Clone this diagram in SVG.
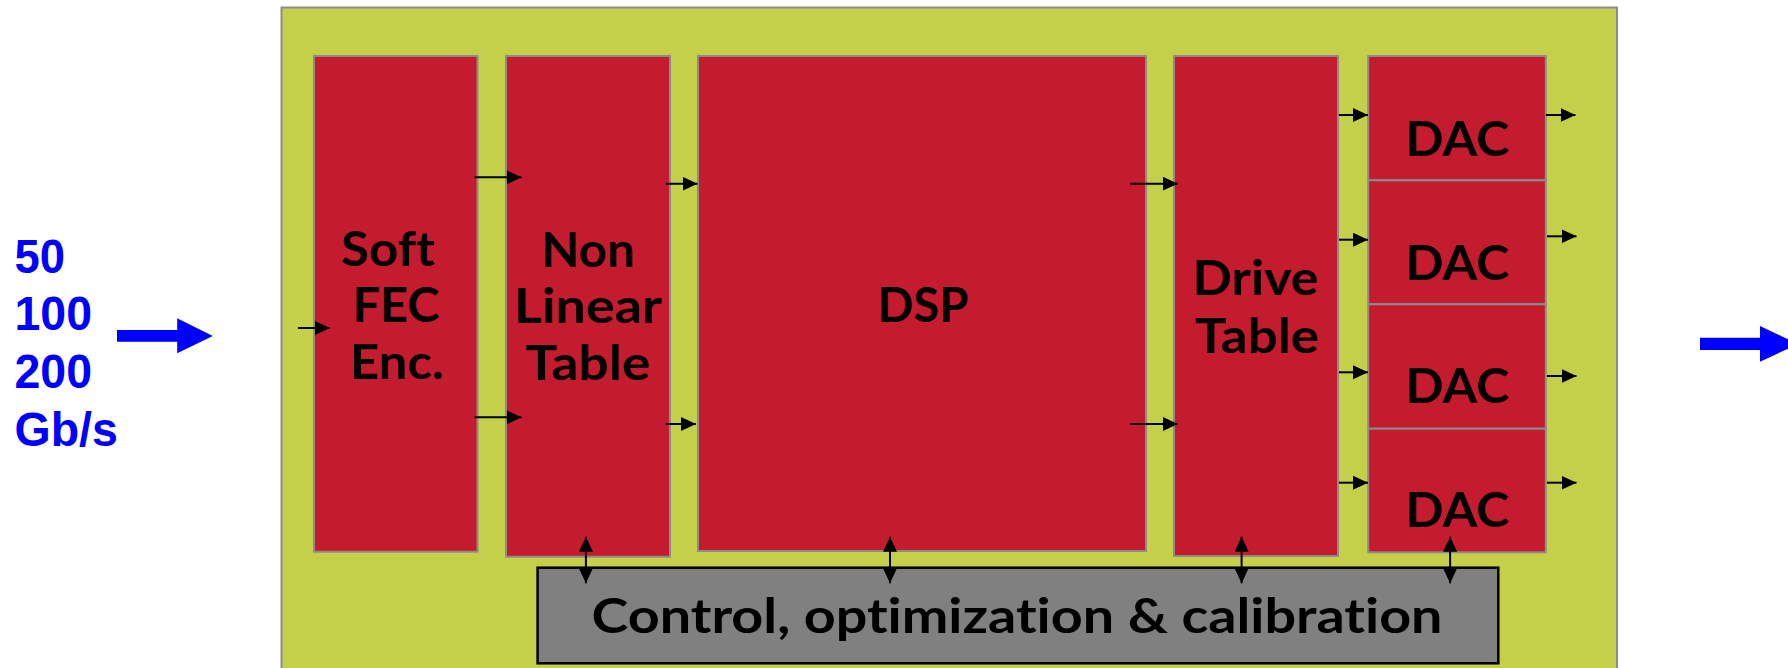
<svg xmlns="http://www.w3.org/2000/svg" width="1788" height="668" viewBox="0 0 1788 668">
  <style>
    .board { fill: #C4CF4A; stroke: #8C8C8C; stroke-width: 2; }
    .blk { fill: #C51B2E; stroke: #8C8C8C; stroke-width: 2; }
    .ctl { fill: #808080; stroke: #000000; stroke-width: 2.5; }
    .lbl { font-family: Lato, "Open Sans", "DejaVu Sans", sans-serif; font-weight: bold; font-size: 47px; fill: #000000; font-variant-ligatures: none; font-feature-settings: "liga" 0, "clig" 0, "dlig" 0; }
    .rate { font-family: "Liberation Sans", Arial, sans-serif; font-weight: bold; font-size: 48px; fill: #0000FF; }
    .wire { stroke: #000000; stroke-width: 2; fill: none; }
    .bus { fill: #0000FF; }
  </style>
  <defs>
    <marker id="head" markerUnits="userSpaceOnUse" markerWidth="15" markerHeight="14" refX="15" refY="7" orient="auto-start-reverse" viewBox="0 0 15 14">
      <path d="M0,0 L15,7 L0,14 z" fill="#000000"/>
    </marker>
  </defs>

  <!-- data rate input -->
  <g id="rate-in">
    <text class="rate" x="14.5" y="273.3" textLength="50.5" lengthAdjust="spacingAndGlyphs">50</text>
    <text class="rate" x="14.5" y="330" textLength="77.5" lengthAdjust="spacingAndGlyphs">100</text>
    <text class="rate" x="14.5" y="388.3" textLength="77.5" lengthAdjust="spacingAndGlyphs">200</text>
    <text class="rate" x="14.5" y="446" textLength="103.4" lengthAdjust="spacingAndGlyphs">Gb/s</text>
    <polygon class="bus" points="117,330 177.2,330 177.2,318.3 212.8,336 177.2,353.3 177.2,341.7 117,341.7"/>
  </g>

  <!-- output arrow, runs off the right edge -->
  <g id="rate-out">
    <polygon class="bus" points="1700,337.7 1760,337.7 1760,326 1798,344 1760,361.7 1760,350 1700,350"/>
  </g>

  <!-- transmitter board -->
  <g id="board">
    <rect class="board" x="281.5" y="7.5" width="1335.5" height="700"/>
  </g>

  <g id="soft-fec">
    <rect class="blk" x="314" y="56" width="163.5" height="495.7"/>
    <text class="lbl" x="341" y="265.5" textLength="94" lengthAdjust="spacingAndGlyphs">Soft</text>
    <text class="lbl" x="352.5" y="322" textLength="87" lengthAdjust="spacingAndGlyphs">FEC</text>
    <text class="lbl" x="350" y="379" textLength="94" lengthAdjust="spacingAndGlyphs">Enc.</text>
  </g>

  <g id="nonlinear-table">
    <rect class="blk" x="506" y="56" width="164" height="500.7"/>
    <text class="lbl" x="541.5" y="266.5" textLength="93.5" lengthAdjust="spacingAndGlyphs">Non</text>
    <text class="lbl" x="514" y="323" textLength="148" lengthAdjust="spacingAndGlyphs">Linear</text>
    <text class="lbl" x="525.5" y="380" textLength="125" lengthAdjust="spacingAndGlyphs">Table</text>
  </g>

  <g id="dsp">
    <rect class="blk" x="698" y="56" width="448" height="495"/>
    <text class="lbl" x="877.4" y="321.7" textLength="91" lengthAdjust="spacingAndGlyphs">DSP</text>
  </g>

  <g id="drive-table">
    <rect class="blk" x="1174" y="56" width="164" height="500"/>
    <text class="lbl" x="1192.5" y="295" textLength="126" lengthAdjust="spacingAndGlyphs">Drive</text>
    <text class="lbl" x="1195" y="353.3" textLength="124" lengthAdjust="spacingAndGlyphs">Table</text>
  </g>

  <g id="dac-1">
    <rect class="blk" x="1368.2" y="56" width="177.6" height="124.3"/>
    <text class="lbl" x="1405.4" y="156" textLength="104" lengthAdjust="spacingAndGlyphs">DAC</text>
  </g>
  <g id="dac-2">
    <rect class="blk" x="1368.2" y="180.3" width="177.6" height="124"/>
    <text class="lbl" x="1405.4" y="280" textLength="104" lengthAdjust="spacingAndGlyphs">DAC</text>
  </g>
  <g id="dac-3">
    <rect class="blk" x="1368.2" y="304.3" width="177.6" height="124.4"/>
    <text class="lbl" x="1405.4" y="403.3" textLength="104" lengthAdjust="spacingAndGlyphs">DAC</text>
  </g>
  <g id="dac-4">
    <rect class="blk" x="1368.2" y="428.7" width="177.6" height="123.6"/>
    <text class="lbl" x="1405.4" y="527.3" textLength="104" lengthAdjust="spacingAndGlyphs">DAC</text>
  </g>

  <g id="control">
    <rect class="ctl" x="537.6" y="567.7" width="960.7" height="95.6"/>
    <text class="lbl" x="591.5" y="633.3" textLength="851" lengthAdjust="spacingAndGlyphs">Control, optimization &amp; calibration</text>
  </g>

  <!-- signal paths -->
  <g id="connectors">
    <line class="wire" x1="298" y1="328" x2="330" y2="328" marker-end="url(#head)"/>
    <line class="wire" x1="474.5" y1="177.3" x2="521.6" y2="177.3" marker-end="url(#head)"/>
    <line class="wire" x1="474.5" y1="417.3" x2="521.6" y2="417.3" marker-end="url(#head)"/>
    <line class="wire" x1="665.8" y1="183.7" x2="697.5" y2="183.7" marker-end="url(#head)"/>
    <line class="wire" x1="665.8" y1="424" x2="696" y2="424" marker-end="url(#head)"/>
    <line class="wire" x1="1130" y1="183.7" x2="1177.8" y2="183.7" marker-end="url(#head)"/>
    <line class="wire" x1="1130" y1="424" x2="1177.8" y2="424" marker-end="url(#head)"/>
    <line class="wire" x1="1339" y1="115" x2="1368" y2="115" marker-end="url(#head)"/>
    <line class="wire" x1="1339" y1="239.7" x2="1368" y2="239.7" marker-end="url(#head)"/>
    <line class="wire" x1="1339" y1="372.3" x2="1368" y2="372.3" marker-end="url(#head)"/>
    <line class="wire" x1="1339" y1="482.7" x2="1368" y2="482.7" marker-end="url(#head)"/>
    <line class="wire" x1="1546" y1="115" x2="1575.5" y2="115" marker-end="url(#head)"/>
    <line class="wire" x1="1547" y1="236.3" x2="1576.5" y2="236.3" marker-end="url(#head)"/>
    <line class="wire" x1="1547" y1="376" x2="1576.5" y2="376" marker-end="url(#head)"/>
    <line class="wire" x1="1547" y1="482.7" x2="1576.5" y2="482.7" marker-end="url(#head)"/>
    <line class="wire" x1="585.9" y1="536.7" x2="585.9" y2="583.3" marker-start="url(#head)" marker-end="url(#head)"/>
    <line class="wire" x1="890" y1="536.7" x2="890" y2="583.3" marker-start="url(#head)" marker-end="url(#head)"/>
    <line class="wire" x1="1241.6" y1="536.7" x2="1241.6" y2="583.3" marker-start="url(#head)" marker-end="url(#head)"/>
    <line class="wire" x1="1450.1" y1="536.7" x2="1450.1" y2="583.3" marker-start="url(#head)" marker-end="url(#head)"/>
  </g>
</svg>
